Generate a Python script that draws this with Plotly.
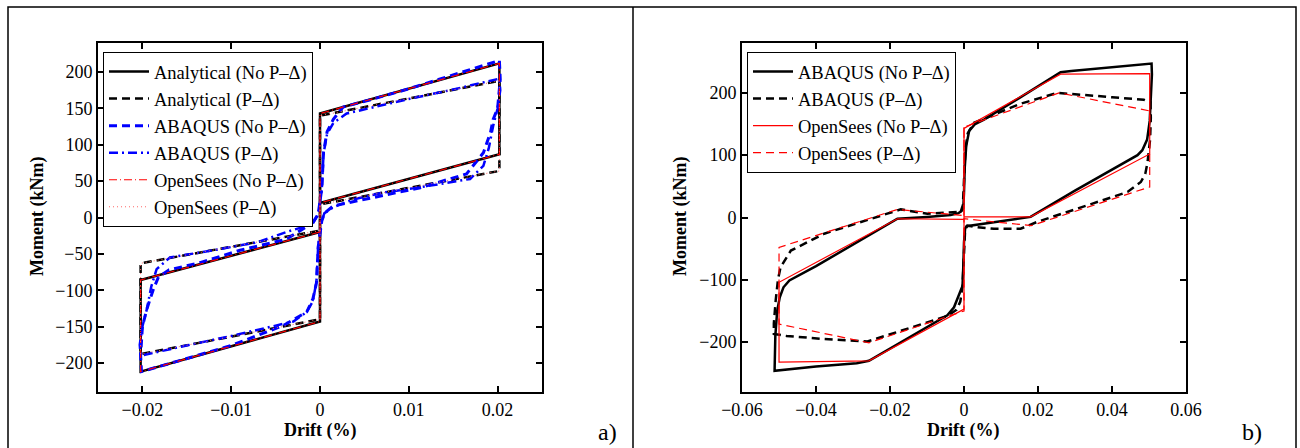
import plotly.graph_objects as go

W, H = 1300, 448
FONT = "Liberation Serif, Times New Roman, serif"

# ---------------- Panel a data ----------------
an_nopd_x = [0, 0, 0.0202, 0.0202, 0, 0, -0.0202, -0.0202, 0]
an_nopd_y = [-20, 143, 212, 87, 20, -143, -212, -86, -20]

an_pd_x = [0, 0, 0.0202, 0.0202, 0, 0, -0.0202, -0.0202, 0]
an_pd_y = [-18, 140, 188, 64, 18, -140, -188, -63, -18]

ab_nopd_a_x = [-0.0008, -0.0002, 0.0002, 0.0004, 0.0008, 0.0015, 0.0026, 0.0060, 0.0100, 0.0150, 0.0202,
               0.0203, 0.0200, 0.0195, 0.0192, 0.0184, 0.0173, 0.0165, 0.0113, 0.0056, 0.0015, 0.0005,
               0.0002, -0.0002, -0.0004, -0.0008, -0.0015, -0.0042, -0.0100, -0.0150, -0.0201,
               -0.0202, -0.0200, -0.0195, -0.0188, -0.0182, -0.0170, -0.0135, -0.0090, -0.0038, -0.0008]
ab_nopd_a_y = [-7, 5, 40, 90, 118, 135, 152, 163, 177, 196, 216,
               190, 150, 135, 117, 89, 72, 60, 41, 27, 16, 6,
               -5, -40, -90, -112, -130, -149, -176, -194, -212,
               -190, -150, -126, -100, -82, -72, -62, -45, -30, -7]

ab_pd_a_x = [-0.0008, -0.0002, 0.0002, 0.0004, 0.0008, 0.0015, 0.0030, 0.0060, 0.0100, 0.0150, 0.0202,
             0.0203, 0.0200, 0.0195, 0.0190, 0.0184, 0.0169, 0.0120, 0.0070, 0.0038, 0.0015, 0.0005,
             0.0002, -0.0002, -0.0004, -0.0008, -0.0015, -0.0030, -0.0060, -0.0100, -0.0150, -0.0202,
             -0.0203, -0.0200, -0.0195, -0.0190, -0.0184, -0.0169, -0.0120, -0.0070, -0.0038, -0.0008]
ab_pd_a_y = [-8, 4, 38, 88, 115, 130, 143, 152, 163, 176, 191,
             175, 150, 126, 95, 71, 53, 43, 34, 25, 14, 6,
             -4, -38, -88, -115, -130, -143, -152, -163, -176, -190,
             -175, -150, -126, -95, -71, -55, -45, -34, -20, -9]

os_nopd_a_x = [0, 0, 0.0202, 0.0202, 0, 0, -0.0202, -0.0202, 0]
os_nopd_a_y = [-20, 143, 212, 87, 20, -143, -212, -86, -20]

os_pd_a_x = [0, 0, 0.0202, 0.0202, 0, 0, -0.0202, -0.0202, 0]
os_pd_a_y = [-18, 140, 188, 64, 18, -140, -188, -63, -18]

# ---------------- Panel b data ----------------
ab_nopd_b_x = [-0.0007, -0.0002, 0.0000, 0.0002, 0.0006, 0.0014, 0.0030, 0.0054, 0.0150, 0.0261, 0.0290,
               0.0400, 0.0507, 0.0508, 0.0506, 0.0502, 0.0495, 0.0482, 0.0469, 0.0400, 0.0300, 0.0180,
               0.0081, 0.0018, 0.0007,
               0.0003, 0.0000, -0.0002, -0.0004, -0.0009, -0.0027, -0.0045, -0.0150, -0.0257, -0.0290,
               -0.0400, -0.0512, -0.0512, -0.0510, -0.0505, -0.0498, -0.0488, -0.0472, -0.0400, -0.0300,
               -0.0180, -0.0100, -0.0036, -0.0015, -0.0007]
ab_nopd_b_y = [10, 15, 40, 80, 115, 139, 150, 157, 192, 233, 235,
               241, 247, 230, 195, 155, 125, 108, 100, 77, 43, 1,
               -7, -12, -14,
               -18, -40, -80, -110, -117, -144, -157, -193, -230, -234,
               -239, -246, -230, -190, -150, -128, -112, -101, -78, -43,
               -2, 1, 4, 7, 10]

ab_pd_b_x = [-0.0009, -0.0003, 0.0000, 0.0004, 0.0010, 0.0027, 0.0060, 0.0150, 0.0252, 0.0300,
             0.0400, 0.0486, 0.0504, 0.0505, 0.0503, 0.0496, 0.0490, 0.0478, 0.0442, 0.0351,
             0.0261, 0.0198, 0.0153, 0.0081, 0.0027, 0.0009,
             0.0003, 0.0000, -0.0004, -0.0010, -0.0020, -0.0045, -0.0153, -0.0261, -0.0378,
             -0.0480, -0.0514, -0.0514, -0.0509, -0.0503, -0.0496, -0.0468, -0.0378, -0.0261,
             -0.0171, -0.0099, -0.0009]
ab_pd_b_y = [9, 20, 60, 110, 135, 152, 160, 182, 200, 198,
             193, 189, 185, 160, 125, 88, 70, 57, 41, 23,
             6, -7, -18, -18, -15, -13,
             -20, -60, -110, -135, -148, -158, -179, -199, -195,
             -190, -187, -170, -133, -100, -80, -53, -26, -4,
             13, 6, 9]

os_nopd_b_x = [0, 0, 0.0261, 0.0502, 0.0502, 0.0180, 0, 0, -0.0257, -0.0500, -0.0500, -0.0180, 0, 0]
os_nopd_b_y = [-3, 143, 230, 231, 102, 1, 1, -147, -230, -232, -104, -2, -3, 143]

os_pd_b_x = [0, 0, 0.0257, 0.0502, 0.0502, 0.0182, 0, 0, -0.0257, -0.0500, -0.0500, -0.0180, 0, 0]
os_pd_b_y = [3, 145, 200, 171, 49, -13, -2, -150, -201, -171, -48, 13, 3, 145]

# tick values
xt_a = [-0.02, -0.01, 0, 0.01, 0.02]
yt_a = [-200, -150, -100, -50, 0, 50, 100, 150, 200]
xt_b = [-0.06, -0.04, -0.02, 0, 0.02, 0.04, 0.06]
yt_b = [-200, -100, 0, 100, 200]

fig = go.Figure()

def add(x, y, name, color, width, dash, xa, ya, legend):
    fig.add_trace(go.Scatter(x=x, y=y, mode="lines", name=name,
                             line=dict(color=color, width=width, dash=dash),
                             xaxis=xa, yaxis=ya, legend=legend))

DASH = "8px,5px"
DASHDOT_T = "9px,4px,2px,4px"
DASHDOT_N = "8px,3px,1px,3px"

add(an_nopd_x, an_nopd_y, "Analytical (No P\u2013\u0394)", "black", 2.5, "solid", "x", "y", "legend")
add(an_pd_x, an_pd_y, "Analytical (P\u2013\u0394)", "black", 2.5, DASH, "x", "y", "legend")
add(ab_nopd_a_x, ab_nopd_a_y, "ABAQUS (No P\u2013\u0394)", "#0000ff", 3, DASH, "x", "y", "legend")
add(ab_pd_a_x, ab_pd_a_y, "ABAQUS (P\u2013\u0394)", "#0000ff", 2.5, DASHDOT_T, "x", "y", "legend")
add(os_nopd_a_x, os_nopd_a_y, "OpenSees (No P\u2013\u0394)", "#ff0000", 1.2, DASHDOT_N, "x", "y", "legend")
add(os_pd_a_x, os_pd_a_y, "OpenSees (P\u2013\u0394)", "#ff6666", 1, "1px,3px", "x", "y", "legend")

add(ab_nopd_b_x, ab_nopd_b_y, "ABAQUS (No P\u2013\u0394)", "black", 2.5, "solid", "x2", "y2", "legend2")
add(ab_pd_b_x, ab_pd_b_y, "ABAQUS (P\u2013\u0394)", "black", 2.5, DASH, "x2", "y2", "legend2")
add(os_nopd_b_x, os_nopd_b_y, "OpenSees (No P\u2013\u0394)", "#ff0000", 1.2, "solid", "x2", "y2", "legend2")
add(os_pd_b_x, os_pd_b_y, "OpenSees (P\u2013\u0394)", "#ff0000", 1.2, "8px,5px", "x2", "y2", "legend2")

def px(x):
    return x / W

def py(y):
    return 1 - y / H

ydom = [py(392), py(43)]
axis_common = dict(showline=True, linecolor="black", linewidth=2, mirror="allticks",
                   ticks="inside", ticklen=6, tickwidth=1.5, tickcolor="black",
                   showgrid=False, zeroline=False, automargin=False,
                   tickfont=dict(family=FONT, size=18, color="black"))

fig.update_layout(
    width=W, height=H,
    margin=dict(l=0, r=0, t=0, b=0, pad=0),
    paper_bgcolor="white", plot_bgcolor="white",
    font=dict(family=FONT, color="black"),
    xaxis=dict(domain=[px(98), px(542)], range=[-0.025, 0.025], tickmode="array",
               tickvals=xt_a, anchor="y", **axis_common),
    yaxis=dict(domain=ydom, range=[-240, 240], tickmode="array", tickvals=yt_a,
               anchor="x", **axis_common),
    xaxis2=dict(domain=[px(742), px(1186)], range=[-0.06001, 0.06001], tickmode="array",
                tickvals=xt_b, anchor="y2", **axis_common),
    yaxis2=dict(domain=ydom, range=[-280, 280], tickmode="array", tickvals=yt_b,
                anchor="x2", **axis_common),
    legend=dict(x=px(103), y=py(52), xanchor="left", yanchor="top",
                bgcolor="white", bordercolor="black", borderwidth=1,
                font=dict(family=FONT, size=18.5, color="black"), itemwidth=40),
    legend2=dict(x=px(747), y=py(52), xanchor="left", yanchor="top",
                 bgcolor="white", bordercolor="black", borderwidth=1,
                 font=dict(family=FONT, size=18.5, color="black"), itemwidth=40),
    showlegend=True,
)

title_font = dict(family=FONT, size=18, color="black")
annots = [
    dict(text="<b>Drift (%)</b>", x=px(320), y=py(430), xref="paper", yref="paper",
         showarrow=False, font=title_font, xanchor="center", yanchor="middle"),
    dict(text="<b>Drift (%)</b>", x=px(963), y=py(430), xref="paper", yref="paper",
         showarrow=False, font=title_font, xanchor="center", yanchor="middle"),
    dict(text="<b>Moment (kNm)</b>", x=px(37), y=py(217), xref="paper", yref="paper",
         showarrow=False, font=title_font, textangle=-90, xanchor="center", yanchor="middle"),
    dict(text="<b>Moment (kNm)</b>", x=px(680), y=py(217), xref="paper", yref="paper",
         showarrow=False, font=title_font, textangle=-90, xanchor="center", yanchor="middle"),
    dict(text="a)", x=px(607), y=py(432), xref="paper", yref="paper",
         showarrow=False, font=dict(family=FONT, size=24, color="black"),
         xanchor="center", yanchor="middle"),
    dict(text="b)", x=px(1252), y=py(432), xref="paper", yref="paper",
         showarrow=False, font=dict(family=FONT, size=24, color="black"),
         xanchor="center", yanchor="middle"),
]
fig.update_layout(annotations=annots)

fig.update_layout(shapes=[
    dict(type="rect", xref="paper", yref="paper", x0=px(8), x1=px(1296), y0=py(460), y1=py(7),
         line=dict(color="black", width=1.5), fillcolor="rgba(0,0,0,0)", layer="above"),
    dict(type="line", xref="paper", yref="paper", x0=px(633), x1=px(633), y0=py(460), y1=py(7),
         line=dict(color="black", width=1.5), layer="above"),
])

fig.write_html("out.html", config={"displayModeBar": False},
               post_script="document.body.style.margin='0';document.body.style.padding='0';")
